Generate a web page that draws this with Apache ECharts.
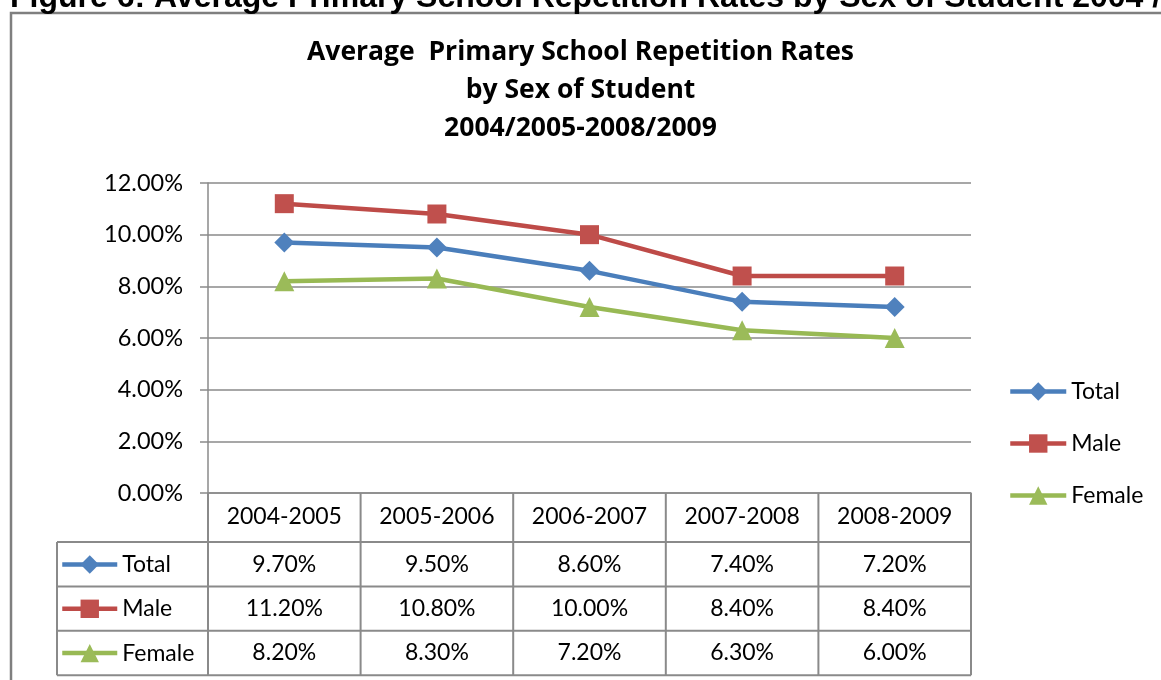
<!DOCTYPE html>
<html>
<head>
<meta charset="utf-8">
<script src="https://cdn.jsdelivr.net/npm/echarts@6/dist/echarts.min.js"></script>
<style>
  html, body { margin: 0; padding: 0; background: #fff; }
  #main { width: 1161px; height: 680px; }
</style>
</head>
<body>
<div id="main"></div>
<script>
// chart data
const categories = ['2004-2005', '2005-2006', '2006-2007', '2007-2008', '2008-2009'];
const totalRates = [9.7, 9.5, 8.6, 7.4, 7.2];
const maleRates = [11.2, 10.8, 10.0, 8.4, 8.4];
const femaleRates = [8.2, 8.3, 7.2, 6.3, 6.0];
const seriesNames = ['Total', 'Male', 'Female'];
const yTicks = [0, 2, 4, 6, 8, 10, 12];

const FONT = 'Lato';
const GRAY = '#8a8a8a';
const colors = ['#4f81bd', '#c0504d', '#9bbb59'];
const lineColors = ['#4a7ebb', '#be4b48', '#98b954'];
const symbols = ['diamond', 'rect', 'triangle'];
const symbolSizes = [20, 19, 20];
const rows = [totalRates, maleRates, femaleRates];

const pct = v => v.toFixed(2) + '%';

const chart = echarts.init(document.getElementById('main'));

const option = {
    backgroundColor: '#fff',
    animation: false,
    title: {
        text: 'Average  Primary School Repetition Rates\nby Sex of Student\n2004/2005-2008/2009',
        left: 'center',
        top: 33,
        padding: 0,
        textStyle: {
            fontFamily: 'Open Sans',
            fontSize: 26.5,
            fontWeight: 'bold',
            lineHeight: 38,
            color: '#000'
        }
    },
    grid: {
        left: 208,
        right: 190,
        top: 183,
        bottom: 187
    },
    xAxis: {
        type: 'category',
        data: categories,
        boundaryGap: true,
        axisLine: { show: true, lineStyle: { color: GRAY, width: 1.5 } },
        axisTick: { show: false },
        axisLabel: {
            margin: 12,
            fontFamily: FONT,
            fontSize: 23,
            color: '#000'
        }
    },
    yAxis: {
        type: 'value',
        min: yTicks[0],
        max: yTicks[yTicks.length - 1],
        interval: 2,
        axisLine: { show: true, lineStyle: { color: GRAY, width: 1.5 } },
        axisTick: { show: true, length: 8, lineStyle: { color: GRAY, width: 1.5 } },
        splitLine: { show: true, lineStyle: { color: GRAY, width: 1.5 } },
        axisLabel: {
            margin: 25,
            fontFamily: FONT,
            fontSize: 23.5,
            color: '#000',
            formatter: v => pct(v)
        }
    },
    legend: [{
        data: seriesNames,
        orient: 'vertical',
        left: 1008,
        top: 380,
        padding: 0,
        itemWidth: 56,
        itemHeight: 23,
        itemGap: 29,
        lineStyle: { width: 4.5 },
        textStyle: { fontFamily: FONT, fontSize: 23, color: '#000', lineHeight: 23 }
    }, {
        data: seriesNames,
        orient: 'vertical',
        left: 60,
        top: 553,
        padding: 0,
        itemWidth: 55,
        itemHeight: 23,
        itemGap: 21.3,
        lineStyle: { width: 4.5 },
        textStyle: { fontFamily: FONT, fontSize: 23, color: '#000', lineHeight: 23 }
    }],
    series: seriesNames.map((name, i) => ({
        name: name,
        type: 'line',
        data: rows[i],
        symbol: symbols[i],
        symbolSize: symbolSizes[i],
        color: colors[i],
        lineStyle: { color: lineColors[i], width: 4.5 },
        itemStyle: { color: colors[i] }
    }))
};

chart.setOption(option);

// data table + frame, placed from the axis scales
const xs = categories.map(c => chart.convertToPixel({ xAxisIndex: 0 }, c));
const band = xs[1] - xs[0];
const y0 = chart.convertToPixel({ yAxisIndex: 0 }, 0);
const tableLeft = 57;
const colEdges = [xs[0] - band / 2].concat(xs.map(x => x + band / 2));
const tableRight = colEdges[colEdges.length - 1];
const headBottom = y0 + 49;
const rowH = 44.4;
const rowLines = [0, 1, 2, 3].map(k => headBottom + k * rowH);

const lineStyle = { stroke: GRAY, lineWidth: 2 };
const graphics = [];

// outer chart frame
graphics.push({
    type: 'rect',
    shape: { x: 11, y: 13, width: 1300, height: 800 },
    style: { fill: null, stroke: '#7f7f7f', lineWidth: 2.5 },
    silent: true
});
// figure caption, cut at top
graphics.push({
    type: 'text',
    left: 10,
    top: -18,
    style: {
        text: 'Figure 6: Average Primary School Repetition Rates by Sex of Student 2004 / 2005-2008 / 2009',
        font: 'bold 32px "Liberation Sans", Arial, sans-serif',
        fill: '#000'
    }
});

rowLines.forEach(y => {
    graphics.push({ type: 'line', shape: { x1: tableLeft, y1: y, x2: tableRight, y2: y }, style: lineStyle });
});
graphics.push({ type: 'line', shape: { x1: tableLeft, y1: headBottom, x2: tableLeft, y2: rowLines[3] }, style: lineStyle });
colEdges.forEach(x => {
    graphics.push({ type: 'line', shape: { x1: x, y1: y0, x2: x, y2: rowLines[3] }, style: lineStyle });
});

rows.forEach((vals, r) => {
    const cy = headBottom + (r + 0.5) * rowH;
    vals.forEach((v, i) => {
        graphics.push({
            type: 'text',
            x: xs[i],
            y: cy,
            style: {
                text: pct(v),
                fontFamily: FONT,
                fontSize: 23,
                fill: '#000',
                align: 'center',
                verticalAlign: 'middle'
            }
        });
    });
});

chart.setOption({ graphic: graphics });
</script>
</body>
</html>
